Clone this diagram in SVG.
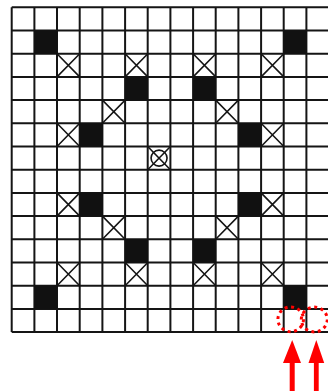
<svg xmlns="http://www.w3.org/2000/svg" width="328" height="391" viewBox="0 0 328 391">
<style>
.grid{stroke:#151515;stroke-width:2;fill:none}
.blk{fill:#111}
.xm{stroke:#151515;stroke-width:1.6;fill:none}
.ring{fill:none;stroke:#ff0000;stroke-width:3;stroke-dasharray:3 3.6}
.arr{fill:#ff0000}
</style>
<defs>
<rect id="b" width="22.7" height="23.2" class="blk"/>
<path id="x" d="M0,0 L22.7,23.2 M22.7,0 L0,23.2" class="xm"/>
</defs>
<rect width="328" height="391" fill="#fff"/>
<g id="grid" class="grid">
<path d="M11.7,7.3V332.1M34.4,7.3V332.1M57,7.3V332.1M79.7,7.3V332.1M102.4,7.3V332.1M125.1,7.3V332.1M147.7,7.3V332.1M170.4,7.3V332.1M193.1,7.3V332.1M215.7,7.3V332.1M238.4,7.3V332.1M261.1,7.3V332.1M283.7,7.3V332.1M306.4,7.3V332.1"/>
<path d="M11.7,7.3H328M11.7,30.5H328M11.7,53.7H328M11.7,76.9H328M11.7,100.1H328M11.7,123.3H328M11.7,146.5H328M11.7,169.7H328M11.7,192.9H328M11.7,216.1H328M11.7,239.3H328M11.7,262.5H328M11.7,285.7H328M11.7,308.9H328M11.7,332.1H328"/>
</g>
<g id="black-cells">
<g id="b-1-1"><use href="#b" x="34.4" y="30.5"/></g>
<g id="b-12-1"><use href="#b" x="283.7" y="30.5"/></g>
<g id="b-5-3"><use href="#b" x="125.1" y="76.9"/></g>
<g id="b-8-3"><use href="#b" x="193.1" y="76.9"/></g>
<g id="b-3-5"><use href="#b" x="79.7" y="123.3"/></g>
<g id="b-10-5"><use href="#b" x="238.4" y="123.3"/></g>
<g id="b-3-8"><use href="#b" x="79.7" y="192.9"/></g>
<g id="b-10-8"><use href="#b" x="238.4" y="192.9"/></g>
<g id="b-5-10"><use href="#b" x="125.1" y="239.3"/></g>
<g id="b-8-10"><use href="#b" x="193.1" y="239.3"/></g>
<g id="b-1-12"><use href="#b" x="34.4" y="285.7"/></g>
<g id="b-12-12"><use href="#b" x="283.7" y="285.7"/></g>
</g>
<g id="x-cells">
<g id="x-2-2"><use href="#x" x="57" y="53.7"/></g>
<g id="x-5-2"><use href="#x" x="125.1" y="53.7"/></g>
<g id="x-8-2"><use href="#x" x="193.1" y="53.7"/></g>
<g id="x-11-2"><use href="#x" x="261.1" y="53.7"/></g>
<g id="x-4-4"><use href="#x" x="102.4" y="100.1"/></g>
<g id="x-9-4"><use href="#x" x="215.7" y="100.1"/></g>
<g id="x-2-5"><use href="#x" x="57" y="123.3"/></g>
<g id="x-11-5"><use href="#x" x="261.1" y="123.3"/></g>
<g id="x-2-8"><use href="#x" x="57" y="192.9"/></g>
<g id="x-11-8"><use href="#x" x="261.1" y="192.9"/></g>
<g id="x-4-9"><use href="#x" x="102.4" y="216.1"/></g>
<g id="x-9-9"><use href="#x" x="215.7" y="216.1"/></g>
<g id="x-2-11"><use href="#x" x="57" y="262.5"/></g>
<g id="x-5-11"><use href="#x" x="125.1" y="262.5"/></g>
<g id="x-8-11"><use href="#x" x="193.1" y="262.5"/></g>
<g id="x-11-11"><use href="#x" x="261.1" y="262.5"/></g>
</g>
<g id="center-cell">
<use href="#x" x="147.7" y="146.5"/>
<circle cx="159.05" cy="158.1" r="8" class="xm"/>
</g>
<g id="marked-cells">
<ellipse cx="290.7" cy="319.3" rx="12.8" ry="12.4" class="ring"/>
<ellipse cx="314.3" cy="319.5" rx="13" ry="12.4" class="ring"/>
</g>
<g id="connectors">
<polygon class="arr" points="292.2,340 283,363 301,363"/>
<rect class="arr" x="289.7" y="362" width="5" height="29"/>
<polygon class="arr" points="316.3,340 308.5,363 324.2,363"/>
<rect class="arr" x="313.9" y="362" width="4.8" height="29"/>
</g>
</svg>
